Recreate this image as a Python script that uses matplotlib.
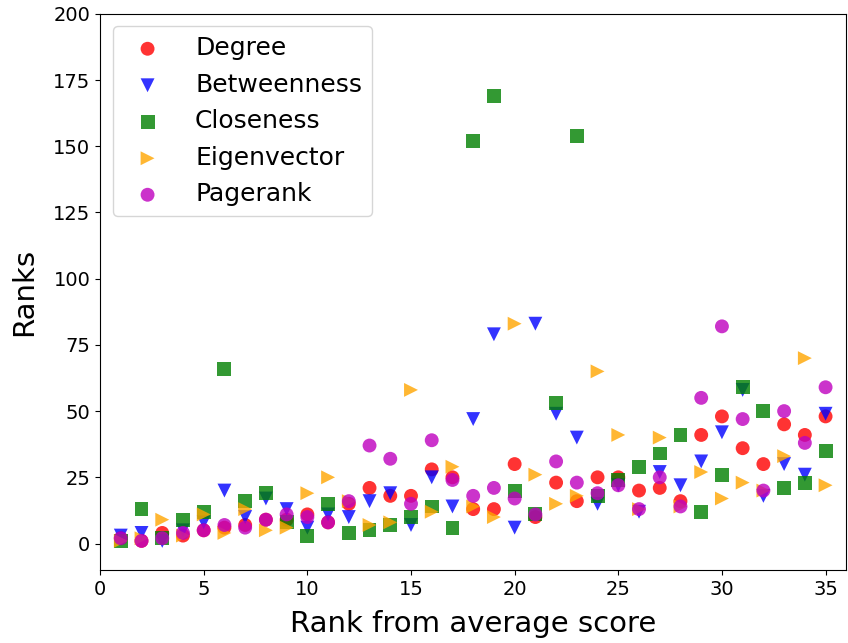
import matplotlib
matplotlib.use("Agg")
import matplotlib.pyplot as plt

x = list(range(1, 36))
degree = [2, 1, 4, 3, 5, 6, 7, 9, 9, 11, 8, 15, 21, 18, 18, 28, 25, 13, 13, 30,
          10, 23, 16, 25, 25, 20, 21, 16, 41, 48, 36, 30, 45, 41, 48]
betweenness = [3, 4, 1, 5, 8, 20, 10, 17, 13, 6, 11, 10, 16, 19, 7, 25, 14, 47, 79, 6,
               83, 49, 40, 15, 22, 12, 27, 22, 31, 42, 58, 18, 30, 26, 49]
closeness = [1, 13, 2, 9, 12, 66, 16, 19, 8, 3, 15, 4, 5, 7, 10, 14, 6, 152, 169, 20,
             11, 53, 154, 18, 24, 29, 34, 41, 12, 26, 59, 50, 21, 23, 35]
eigenvector = [1, 2, 9, 3, 11, 4, 13, 5, 6, 19, 25, 16, 7, 8, 58, 12, 29, 14, 10, 83,
               26, 15, 18, 65, 41, 13, 40, 14, 27, 17, 23, 20, 33, 70, 22]
pagerank = [2, 1, 2, 4, 5, 7, 6, 9, 11, 10, 8, 16, 37, 32, 15, 39, 24, 18, 21, 17,
            11, 31, 23, 19, 22, 13, 25, 14, 55, 82, 47, 20, 50, 38, 59]

series = [
    ("Degree", degree, "o", "red"),
    ("Betweenness", betweenness, "v", "blue"),
    ("Closeness", closeness, "s", "green"),
    ("Eigenvector", eigenvector, ">", "orange"),
    ("Pagerank", pagerank, "o", "m"),
]

fig = plt.figure(figsize=(8.48, 6.43), dpi=100)
ax = fig.add_axes([0.118, 0.1135, 0.880, 0.865])
for name, vals, mk, col in series:
    ax.scatter(x, vals, marker=mk, color=col, alpha=0.8, s=100, label=name,
               edgecolors="none")

ax.set_xlim(0, 36)
ax.set_ylim(-10, 200)
ax.set_xticks([0, 5, 10, 15, 20, 25, 30, 35])
ax.set_yticks([0, 25, 50, 75, 100, 125, 150, 175, 200])
ax.tick_params(labelsize=14)
ax.set_xlabel("Rank from average score", fontsize=21, labelpad=8)
ax.set_ylabel("Ranks", fontsize=21, labelpad=11)
ax.legend(loc="upper left", fontsize=18, handletextpad=0.9,
          labelspacing=0.5)
fig.savefig("out.png", dpi=100)
